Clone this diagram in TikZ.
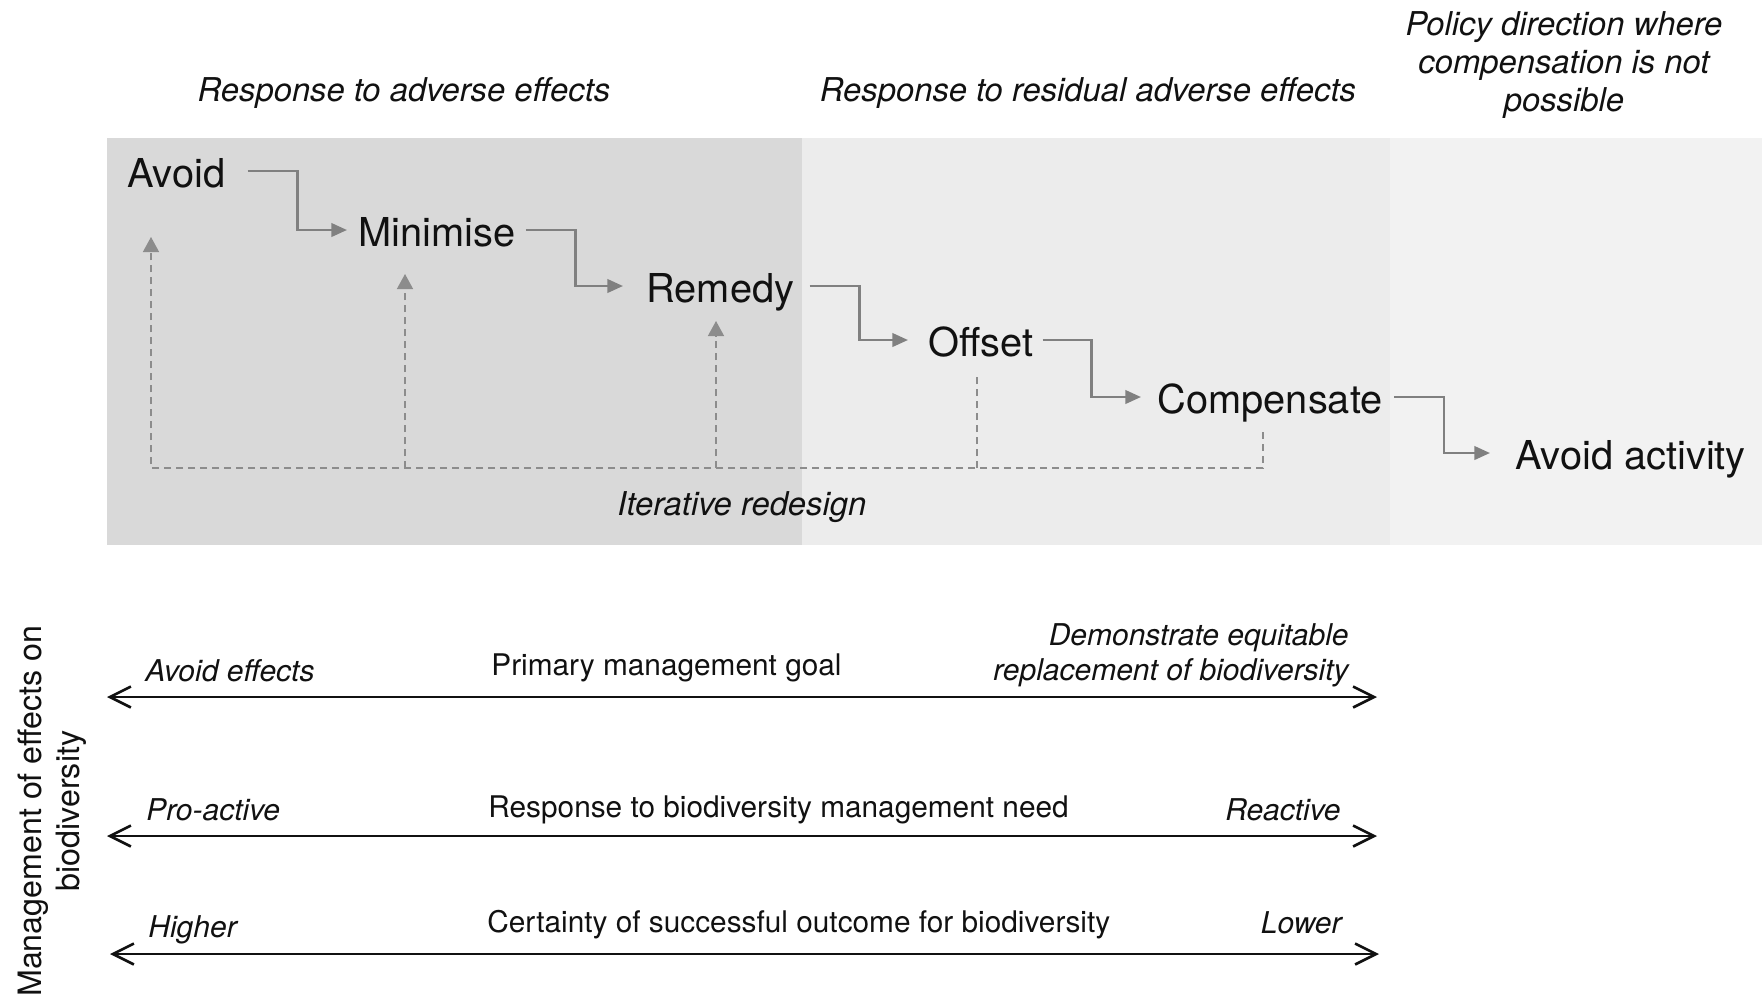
\documentclass[tikz,border=0pt]{standalone}
\usepackage{fontspec}
\setmainfont{TeX Gyre Heros}
\usetikzlibrary{arrows.meta}
\definecolor{bandA}{HTML}{D9D9D9}
\definecolor{bandB}{HTML}{ECECEC}
\definecolor{bandC}{HTML}{F2F2F2}
\definecolor{flowgray}{HTML}{808080}
\definecolor{dashgray}{HTML}{8C8C8C}
\definecolor{ink}{HTML}{111111}
\begin{document}
\begin{tikzpicture}[x=0.5pt,y=-0.5pt,
  stage/.style={font=\fontsize{19.9}{23}\selectfont, inner sep=0pt, text height=16.8pt, text depth=0pt, anchor=west, text=ink},
  header/.style={font=\fontsize{16.4}{19}\selectfont\itshape, inner sep=0pt, text=ink},
  lab/.style={font=\fontsize{14.9}{17.5}\selectfont, inner sep=0pt, text=ink},
  ilab/.style={font=\fontsize{15}{17.5}\selectfont\itshape, inner sep=0pt, text=ink},
  flow/.style={draw=flowgray, line width=1.3pt, -{Triangle[length=7.8pt,width=6.7pt]}},
  redash/.style={draw=dashgray, line width=0.7pt, dash pattern=on 3.5pt off 2.5pt},
  redasharrow/.style={redash, -{Triangle[length=7.5pt,width=8pt]}},
  axisline/.style={draw=ink, line width=1.3pt, {Straight Barb[length=10.5pt,width=10.5pt]}-{Straight Barb[length=10.5pt,width=10.5pt]}}
]
\useasboundingbox (0,0) rectangle (1762,998);
\fill[white] (0,0) rectangle (1762,998);
% bands
\fill[bandA] (107,138) rectangle (802,545);
\fill[bandB] (802,138) rectangle (1390,545);
\fill[bandC] (1390,138) rectangle (1762,545);

% headers
\node[header, anchor=base] (h1) at (404,101) {Response to adverse effects};
\node[header, anchor=base] (h2) at (1088,101) {Response to residual adverse effects};
\node[header, anchor=north, align=center] (h3) at (1564,11) {Policy direction where\\compensation is not\\possible};

% stages
\node[stage] (avoid) at (127,171) {Avoid};
\node[stage] (minimise) at (358,230) {Minimise};
\node[stage] (remedy) at (646,286) {Remedy};
\node[stage] (offset) at (928,340) {Offset};
\node[stage] (compensate) at (1157,397) {Compensate};
\node[stage] (avoidact) at (1515,453) {Avoid activity};

% elbow connectors
\draw[flow] ([xshift=11pt]avoid.east) -- ++(50,0) |- ([xshift=-5.5pt]minimise.west);
\draw[flow] ([xshift=5pt]minimise.east) -- ++(50,0) |- ([xshift=-11.5pt]remedy.west);
\draw[flow] ([xshift=7.5pt]remedy.east) -- ++(50,0) |- ([xshift=-10pt]offset.west);
\draw[flow] ([xshift=4.5pt]offset.east) -- ++(49,0) |- ([xshift=-8pt]compensate.west);
\draw[flow] ([xshift=5.5pt]compensate.east) -- ++(50,0) |- ([xshift=-12.5pt]avoidact.west);

% iterative redesign loop
\coordinate (b1) at (151,468);
\coordinate (b2) at (405,468);
\coordinate (b3) at (716,468);
\coordinate (b4) at (977,468);
\coordinate (b5) at (1263,468);
\coordinate (t1) at (151,237);
\coordinate (t2) at (405,274);
\coordinate (t3) at (716,321);
\coordinate (t4) at (977,374);
\coordinate (t5) at (1263,432);
\draw[redasharrow] (t5) -- (b5) -- (b1) -- (t1);
\draw[redasharrow] (b2) -- (t2);
\draw[redasharrow] (b3) -- (t3);
\draw[redash] (b4) -- (t4);
\node[header, anchor=base west] (iter) at (617,515) {Iterative redesign};

% scales
\coordinate (r1l) at (107,697);
\coordinate (r1r) at (1377,697);
\coordinate (r2l) at (107,836);
\coordinate (r2r) at (1377,836);
\coordinate (r3l) at (110,954);
\coordinate (r3r) at (1379,954);
\draw[axisline] (r1l) -- (r1r);
\draw[axisline] (r2l) -- (r2r);
\draw[axisline] (r3l) -- (r3r);

\node[ilab, anchor=base west] (ae) at (145,681) {Avoid effects};
\node[lab, anchor=base west] (pmg) at (491,675) {Primary management goal};
\node[ilab, anchor=north east, align=right] (deq) at (1349,623) {Demonstrate equitable\\replacement of biodiversity};

\node[ilab, anchor=base west] (pa) at (146,820) {Pro-active};
\node[lab, anchor=base west] (rbm) at (488,817) {Response to biodiversity management need};
\node[ilab, anchor=base east] (re) at (1341,820) {Reactive};

\node[ilab, anchor=base west] (hi) at (148,937) {Higher};
\node[lab, anchor=base west] (cert) at (487,932) {Certainty of successful outcome for biodiversity};
\node[ilab, anchor=base east] (lo) at (1342,933) {Lower};

\node[font=\fontsize{16.1}{19}\selectfont, align=center, rotate=90, inner sep=0pt, text=ink] (mgmt) at (52,811) {Management of effects on\\biodiversity};
\end{tikzpicture}
\end{document}
